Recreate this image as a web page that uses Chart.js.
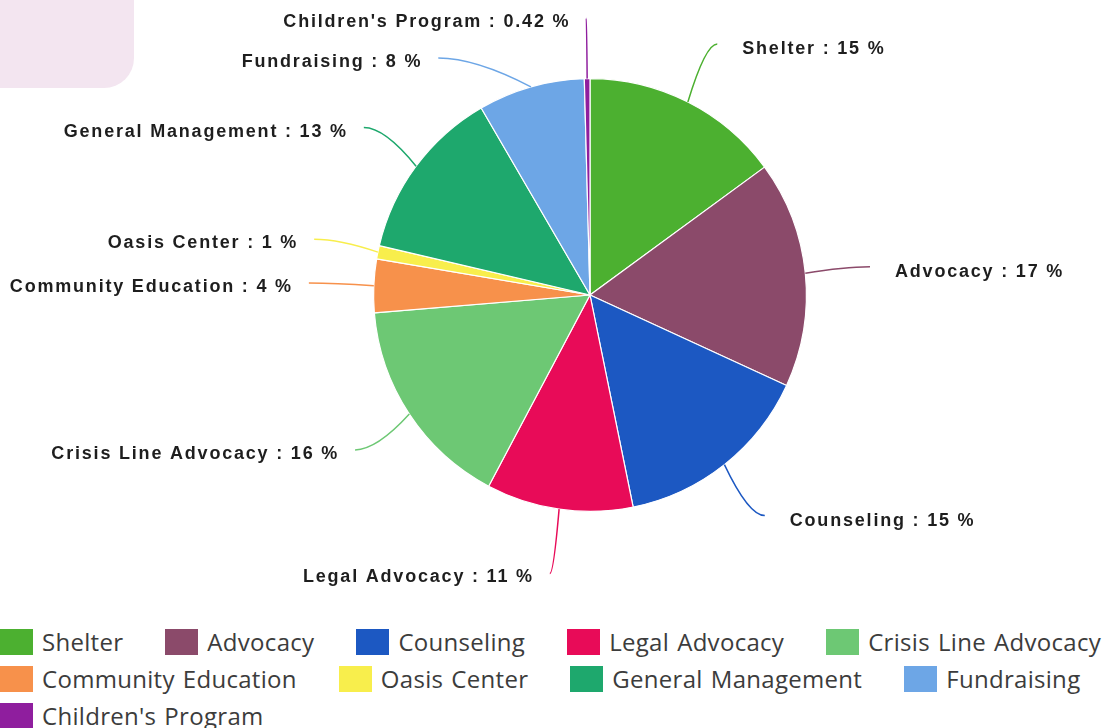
<!DOCTYPE html>
<html>
<head>
<meta charset="utf-8">
<script src="https://cdn.jsdelivr.net/npm/chart.js@4.4.0/dist/chart.umd.min.js"></script>
<style>
    html, body { margin: 0; padding: 0; background: #fff; }
    body { width: 1112px; height: 728px; position: relative; overflow: hidden; }
    #corner { position: absolute; left: 0; top: 0; width: 134px; height: 88px; background: #f3e5f0; border-bottom-right-radius: 30px; }
    #wrap { position: absolute; left: 0; top: 0; width: 1112px; height: 600px; }
    #legend { position: absolute; left: 0; top: 623px; width: 1170px; font-family: "Open Sans", sans-serif; font-size: 24px; letter-spacing: 0.3px; word-spacing: 1.5px; color: #3c3c3c; }
    .item { display: inline-flex; align-items: center; height: 37px; margin-right: 42px; white-space: nowrap; vertical-align: top; }
    .box { width: 33px; height: 26px; margin-right: 9px; }
</style>
</head>
<body>
<div id="corner"></div>
<div id="wrap"><canvas id="pie"></canvas></div>
<div id="legend"></div>
<script>
const categories = ['Shelter', 'Advocacy', 'Counseling', 'Legal Advocacy', 'Crisis Line Advocacy',
    'Community Education', 'Oasis Center', 'General Management', 'Fundraising', "Children's Program"];
const percents = [15, 17, 15, 11, 16, 4, 1, 13, 8, 0.42];
const colors = ['#4cb030', '#8b4a6a', '#1c58c2', '#e80b58', '#6dc874',
    '#f7914b', '#f8ee4c', '#1ea86d', '#6da6e6', '#8f1e9e'];

// leader lines + "Name : value %" labels
const pieLabels = {
    id: 'pieLabels',
    afterDraw(chart) {
        const ctx = chart.ctx;
        const arcs = chart.getDatasetMeta(0).data;
        const dist = 65;
        const items = arcs.map((arc, i) => {
            const mid = (arc.startAngle + arc.endAngle) / 2;
            const r = arc.outerRadius;
            const R = r + dist;
            return {
                i, cx: arc.x, cy: arc.y, R,
                px: arc.x + Math.cos(mid) * r, py: arc.y + Math.sin(mid) * r,
                ax: arc.x + Math.cos(mid) * R, ay: arc.y + Math.sin(mid) * R,
                right: Math.cos(mid) >= 0
            };
        });

        // push overlapping labels apart on each side
        [true, false].forEach(side => {
            const list = items.filter(it => it.right === side).sort((a, b) => a.ay - b.ay);
            let prev = -Infinity;
            list.forEach(it => {
                let y = Math.max(it.ay, 18, prev + 40);
                if (y - it.ay > 10) {
                    const dy = y - it.cy;
                    const dx = Math.sqrt(Math.max(0, it.R * it.R - dy * dy));
                    it.ax = it.cx + (side ? dx : -dx);
                }
                it.ay = y;
                prev = y;
            });
        });

        ctx.save();
        ctx.font = 'bold 18px "Liberation Sans", Arial, sans-serif';
        ctx.letterSpacing = '1.8px';
        ctx.textBaseline = 'middle';
        items.forEach(it => {
            ctx.strokeStyle = colors[it.i];
            ctx.lineWidth = 1.5;
            ctx.beginPath();
            ctx.moveTo(it.px, it.py);
            ctx.quadraticCurveTo(it.px + (it.ax - it.px) * 0.6, it.ay, it.ax, it.ay);
            ctx.stroke();

            const text = categories[it.i] + ' : ' + percents[it.i] + ' %';
            ctx.fillStyle = '#1e1e1e';
            if (it.right) {
                ctx.textAlign = 'left';
                ctx.fillText(text, it.ax + 25, it.ay + 5);
            } else {
                ctx.textAlign = 'right';
                ctx.fillText(text, it.ax - 16, it.ay + 4);
            }
        });
        ctx.restore();
    }
};

new Chart(document.getElementById('pie'), {
    type: 'pie',
    data: {
        labels: categories,
        datasets: [{
            data: percents,
            backgroundColor: colors,
            borderColor: '#ffffff',
            borderWidth: 1.2
        }]
    },
    options: {
        responsive: true,
        maintainAspectRatio: false,
        animation: false,
        layout: { padding: { left: 373, right: 305, top: 78, bottom: 88 } },
        plugins: {
            legend: { display: false },
            tooltip: { enabled: false }
        }
    },
    plugins: [pieLabels]
});

// legend built from the same arrays
const legendEl = document.getElementById('legend');
categories.forEach((name, i) => {
    const item = document.createElement('span');
    item.className = 'item';
    item.innerHTML = `<span class="box" style="background:${colors[i]}"></span>${name}`;
    legendEl.appendChild(item);
});
</script>
</body>
</html>
